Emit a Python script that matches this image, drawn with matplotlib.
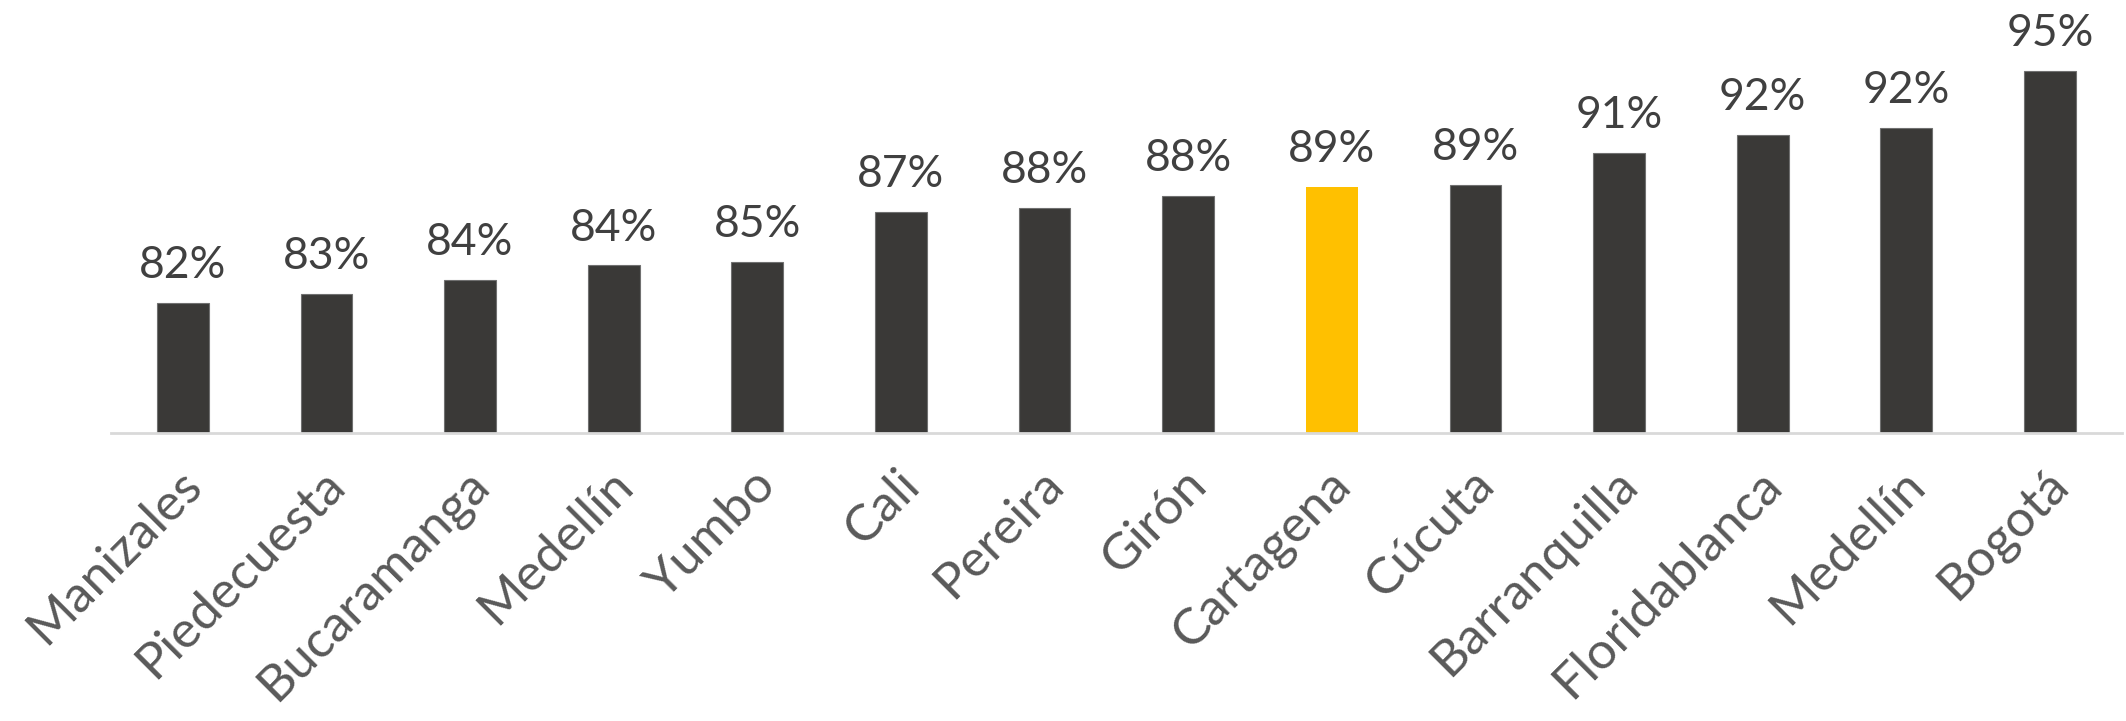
import matplotlib.pyplot as plt
import matplotlib.transforms as mtransforms

# Datos (cobertura por ciudad)
ciudades = ["Manizales", "Piedecuesta", "Bucaramanga", "Medellín", "Yumbo", "Cali",
            "Pereira", "Girón", "Cartagena", "Cúcuta", "Barranquilla",
            "Floridablanca", "Medellín", "Bogotá"]
valores = [82.3, 82.8, 83.6, 84.4, 84.6, 87.4, 87.6, 88.3, 88.8, 88.9, 90.7,
           91.7, 92.1, 95.3]
destacada = "Cartagena"

color_barra = "#3a3937"
color_destacada = "#ffc000"

plt.rcParams['font.family'] = ['Lato', 'DejaVu Sans']

fig = plt.figure(figsize=(21.26, 7.21), dpi=100)
ax = fig.add_axes([0.0522, 0.3994, 0.9458, 0.6006])

x = list(range(len(ciudades)))
colores = [color_destacada if c == destacada else color_barra for c in ciudades]
bordes = ["none" if c == destacada else "#707070" for c in ciudades]
ax.bar(x, valores, width=0.36, color=colores, edgecolor=bordes,
       linewidth=0.8, zorder=2)

for xi, v in zip(x, valores):
    ax.annotate(f"{v:.0f}%", (xi, v), xytext=(0, 12), textcoords="offset points",
                ha="center", va="bottom", fontsize=32, color="#404040")

ax.set_xlim(-0.5, len(ciudades) - 0.5)
ax.set_ylim(75, 99.26)

for s in ["top", "right", "left"]:
    ax.spines[s].set_visible(False)
ax.spines["bottom"].set_color("#d9d9d9")
ax.spines["bottom"].set_linewidth(2)
ax.set_yticks([])
ax.set_xticks(x)
ax.set_xticklabels(ciudades, rotation=45, ha="right", va="top",
                   rotation_mode="anchor", fontsize=37, color="#595959")
ax.tick_params(axis="x", length=0, pad=20)
desplazamiento = mtransforms.ScaledTranslation(-0.05, 0, fig.dpi_scale_trans)
for etiqueta in ax.get_xticklabels():
    etiqueta.set_transform(etiqueta.get_transform() + desplazamiento)

fig.savefig("out.png", dpi=100)
